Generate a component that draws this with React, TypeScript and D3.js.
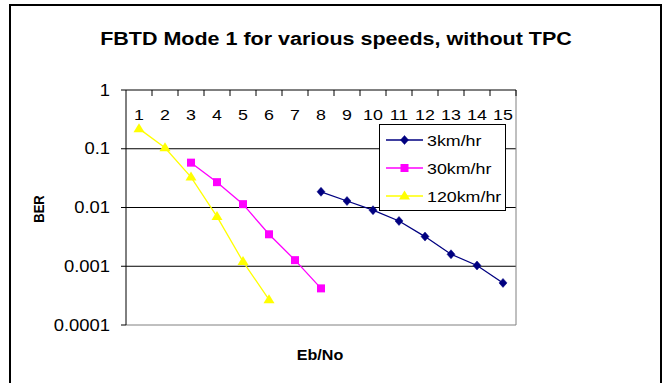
import { useEffect } from 'react';
import * as d3 from 'd3';

const categories = [1, 2, 3, 4, 5, 6, 7, 8, 9, 10, 11, 12, 13, 14, 15];
const yTicks = [1, 0.1, 0.01, 0.001, 0.0001];
const yTickLabels = ['1', '0.1', '0.01', '0.001', '0.0001'];

const ebno3 = [8, 9, 10, 11, 12, 13, 14, 15];
const ber3 = [0.0185, 0.0129, 0.009, 0.0059, 0.0032, 0.0016, 0.00103, 0.00052];
const ebno30 = [3, 4, 5, 6, 7, 8];
const ber30 = [0.058, 0.027, 0.0114, 0.0035, 0.00127, 0.00042];
const ebno120 = [1, 2, 3, 4, 5, 6];
const ber120 = [0.22, 0.104, 0.033, 0.007, 0.0012, 0.00027];

const seriesNames = ['3km/hr', '30km/hr', '120km/hr'];
const seriesColors = ['#000080', '#FF00FF', '#FFFF00'];
const seriesShapes = ['diamond', 'square', 'triangle'];

const W = 665;
const H = 383;
const plot = { left: 126, right: 516, top: 90, bottom: 325 };
const SX = 1.15; // the picture is a bit wide, text stretched to match
const FONT = 'Arial, "Liberation Sans", sans-serif';

function Marker({ shape, x, y, color }: { shape: string; x: number; y: number; color: string }) {
  if (shape === 'diamond') {
    return <path d={`M${x},${y - 4.5}L${x + 4},${y}L${x},${y + 4.5}L${x - 4},${y}Z`} fill={color} stroke={color} strokeWidth={0.5} />;
  }
  if (shape === 'square') {
    return <rect x={x - 4} y={y - 4} width={8} height={8} fill={color} />;
  }
  return <path d={`M${x},${y - 5.5}L${x + 5.5},${y + 3.5}L${x - 5.5},${y + 3.5}Z`} fill={color} />;
}

export default function App() {
  useEffect(() => {
    document.body.style.margin = '0';
  }, []);

  const x = d3.scaleBand<number>().domain(categories).range([plot.left, plot.right]).padding(0);
  const cx = (c: number) => (x(c) ?? 0) + x.bandwidth() / 2;
  const y = d3.scaleLog().domain([0.0001, 1]).range([plot.bottom, plot.top]);

  const series = [
    { xs: ebno3, ys: ber3 },
    { xs: ebno30, ys: ber30 },
    { xs: ebno120, ys: ber120 },
  ];
  const line = d3.line<[number, number]>().x(d => cx(d[0])).y(d => y(d[1]));

  const legend = { x: 379.5, y: 124.5, w: 126, h: 86 };
  const legendRows = [140, 168, 196];

  return (
    <svg width={W} height={H} style={{ display: 'block', background: '#fff' }} fontFamily={FONT}>
      {/* outer chart frame */}
      <rect x={10} y={5} width={651} height={H + 10} fill="none" stroke="#000" strokeWidth={2} />

      <text transform={`translate(336,45) scale(${SX},1)`} textAnchor="middle" fontSize={18.7} fontWeight="bold">
        FBTD Mode 1 for various speeds, without TPC
      </text>

      {/* gridlines */}
      {yTicks.slice(1, 4).map(t => (
        <line key={t} x1={plot.left} x2={plot.right} y1={y(t)} y2={y(t)} stroke="#000" strokeWidth={1} />
      ))}
      {/* plot border right and bottom */}
      <line x1={plot.right} x2={plot.right} y1={plot.top} y2={plot.bottom} stroke="#808080" />
      <line x1={plot.left} x2={plot.right} y1={plot.bottom} y2={plot.bottom} stroke="#808080" />

      {/* y axis */}
      <line x1={plot.left} x2={plot.left} y1={plot.top} y2={plot.bottom} stroke="#000" />
      {yTicks.map((t, i) => (
        <g key={t}>
          <line x1={plot.left - 5} x2={plot.left} y1={y(t)} y2={y(t)} stroke="#000" />
          <text transform={`translate(110,${y(t) + 5.5}) scale(${SX},1)`} textAnchor="end" fontSize={16}>
            {yTickLabels[i]}
          </text>
        </g>
      ))}

      {/* x axis on top */}
      <line x1={plot.left} x2={plot.right} y1={plot.top} y2={plot.top} stroke="#000" />
      {categories.map(c => (
        <g key={c}>
          <line x1={(x(c) ?? 0) + x.bandwidth()} x2={(x(c) ?? 0) + x.bandwidth()} y1={plot.top} y2={plot.top + 6} stroke="#000" />
          <text transform={`translate(${cx(c)},${plot.top + 29.5}) scale(${SX},1)`} textAnchor="middle" fontSize={15.5}>
            {c}
          </text>
        </g>
      ))}

      {/* series */}
      {series.map((s, i) => (
        <g key={i}>
          <path
            d={line(s.xs.map((v, j) => [v, s.ys[j]] as [number, number])) ?? ''}
            fill="none"
            stroke={seriesColors[i]}
            strokeWidth={1.3}
          />
          {s.xs.map((v, j) => (
            <Marker key={j} shape={seriesShapes[i]} x={cx(v)} y={y(s.ys[j])} color={seriesColors[i]} />
          ))}
        </g>
      ))}

      {/* legend */}
      <rect x={legend.x} y={legend.y} width={legend.w} height={legend.h} fill="#fff" stroke="#000" strokeWidth={1} />
      {seriesNames.map((n, i) => (
        <g key={n}>
          <line x1={386} x2={423} y1={legendRows[i]} y2={legendRows[i]} stroke={seriesColors[i]} strokeWidth={1.3} />
          <Marker shape={seriesShapes[i]} x={404.5} y={legendRows[i]} color={seriesColors[i]} />
          <text transform={`translate(427,${legendRows[i] + 5.5}) scale(${SX},1)`} fontSize={15.5}>
            {n}
          </text>
        </g>
      ))}

      {/* axis titles */}
      <text transform={`translate(320,360) scale(${SX},1)`} textAnchor="middle" fontSize={14} fontWeight="bold">
        Eb/No
      </text>
      <text transform={`translate(44,209) rotate(-90) scale(1,${SX})`} textAnchor="middle" fontSize={13} fontWeight="bold">
        BER
      </text>
    </svg>
  );
}
